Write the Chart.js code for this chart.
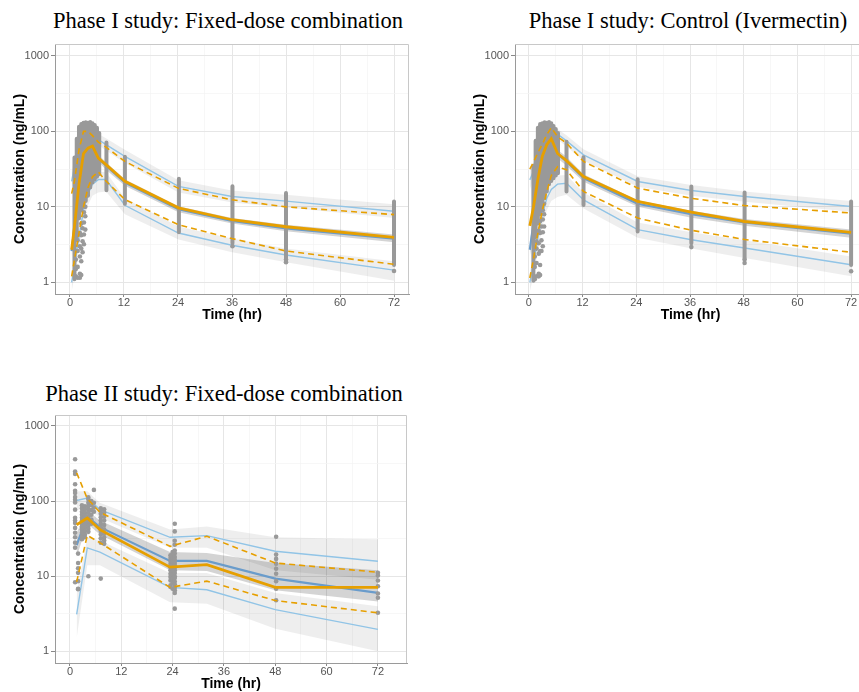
<!DOCTYPE html>
<html>
<head>
<meta charset="utf-8">
<script src="https://cdn.jsdelivr.net/npm/chart.js@4.4.1/dist/chart.umd.min.js"></script>
<style>
  body { margin: 0; background: #fff; width: 859px; height: 692px; overflow: hidden; position: relative; }
  canvas { position: absolute; }
  .ttl { position: absolute; width: 420px; text-align: center; white-space: nowrap;
         font-family: "Liberation Serif", "Times New Roman", serif; font-size: 22.5px; line-height: 1; color: #000; }
</style>
</head>
<body>
<div class="ttl" style="left:18px;top:9.5px">Phase I study: Fixed-dose combination</div>
<div class="ttl" style="left:478px;top:9.5px">Phase I study: Control (Ivermectin)</div>
<div class="ttl" style="left:14px;top:383px">Phase II study: Fixed-dose combination</div>
<canvas id="c1" width="430" height="330" style="left:0;top:0"></canvas>
<canvas id="c2" width="410" height="330" style="left:460px;top:0"></canvas>
<canvas id="c3" width="430" height="319" style="left:0;top:380px"></canvas>
<script>
// ---------- axis ticks ----------
const timeTicks = [0, 6, 12, 18, 24, 30, 36, 42, 48, 54, 60, 66, 72];
const concTicks = [1, 3.1623, 10, 31.623, 100, 316.23, 1000];

// ---------- Phase I, fixed-dose combination ----------
const p1Time   = [0.37, 1, 2, 3, 4, 5, 6.3, 8, 12.2, 24.1, 36, 48, 72];
const p1ObsMed = [2.7, 5.5, 20, 51, 60, 64, 44.4, 36.3, 21.8, 9.7, 6.75, 5.45, 3.95];
const p1ObsHi  = [15, 22, 57, 100, 100, 88, 72, 62, 40, 17.6, 12.4, 10.0, 7.9];
const p1ObsLo  = [1.2, 2, 4.5, 10, 18, 25, 29, 22, 12.5, 5.8, 3.8, 2.6, 1.73];
const p1SimMed = [2.6, 5.5, 19, 48, 56, 60, 44, 35, 21, 9.3, 6.5, 5.2, 3.8];
const p1SimHi  = [21.8, 35, 68, 88, 95, 95, 78, 67, 46.7, 18.7, 13.7, 11.9, 8.75];
const p1SimLo  = [1.0, 1.7, 4, 9, 15, 20, 23, 23, 10.5, 4.5, 3.1, 2.3, 1.45];
const p1HiBandLo  = [16, 28, 56, 74, 82, 82, 66, 56, 38, 15.5, 11.4, 9.8, 7.1];
const p1HiBandHi  = [29, 46, 84, 106, 112, 112, 93, 81, 57, 22.5, 16.5, 14.5, 10.8];
const p1MedBandLo = [2.2, 4.6, 16, 42, 50, 54, 40, 31, 19, 8.5, 6.0, 4.75, 3.4];
const p1MedBandHi = [3.1, 6.5, 22, 55, 63, 67, 49, 39, 23.2, 10.2, 7.1, 5.8, 4.3];
const p1LoBandLo  = [0.75, 1.2, 2.8, 6.2, 10.5, 14, 15.5, 16, 8, 3.7, 2.5, 1.85, 1.05];
const p1LoBandHi  = [1.3, 2.3, 5.6, 12.5, 20, 26, 29, 29, 13, 5.5, 3.8, 2.8, 1.9];
// observed concentrations: dense columns (min..max) and loose points
const p1ColTime = [1.0, 1.5, 2.0, 2.5, 3.0, 3.5, 4.0, 4.5, 5.0, 5.5, 6.0, 6.5, 8.1, 12.2, 24.2, 36.1, 48, 72];
const p1ColLo   = [1.1, 4, 7, 9, 10, 12, 14, 18, 21, 23, 25, 27, 16.6, 11, 4.6, 3.3, 2.1, 1.7];
const p1ColHi   = [45, 80, 115, 125, 130, 132, 130, 133, 128, 122, 112, 95, 71.5, 46, 23.5, 18.7, 15.3, 11.8];
const p1PtTime  = [1.3, 1.7, 2.2, 2.5, 2.8, 3.1, 3.4, 36.1, 48, 72];
const p1PtConc  = [[1.2, 1.5, 2.0], [1.15, 1.6, 2.6, 3.6], [1.15, 1.3, 2.2, 3.0, 4.5], [1.25, 1.9, 2.8, 4.2, 6.0],
                   [2.5, 3.5, 5.2], [3.2, 4.3, 6.2, 8.5], [5, 7.5, 10], [3.0], [1.85, 2.0], [1.41]];

// ---------- Phase I, control (ivermectin) ----------
const p2Time   = [0.2, 1, 2, 3, 4, 5, 6.4, 8.4, 12.2, 24.3, 36.3, 48.2, 72];
const p2ObsMed = [5.6, 9.8, 23, 47, 67, 80, 51, 41, 25.3, 11.8, 8.5, 6.4, 4.6];
const p2ObsHi  = [31.6, 39, 52, 68, 91, 112, 85, 70, 40, 17.7, 13, 10.4, 8.3];
const p2ObsLo  = [1.14, 2, 4.5, 9, 16, 26, 34, 31, 16, 7.1, 4.9, 3.7, 2.5];
const p2SimMed = [2.7, 6, 18, 42, 62, 72, 50, 40, 24, 11, 8.0, 6.2, 4.4];
const p2SimHi  = [22.8, 29.5, 41, 58, 80, 100, 92, 75, 49, 21.7, 16.5, 13.7, 10.1];
const p2SimLo  = [1.0, 1.7, 3.8, 8, 13, 17, 20, 20.6, 12.4, 5.0, 3.67, 2.85, 1.71];
const p2HiBandLo  = [17, 23, 34, 48, 67, 84, 78, 63, 41, 18.5, 14, 11.7, 8.6];
const p2HiBandHi  = [31, 39, 52, 72, 98, 118, 108, 89, 58, 25.5, 19.5, 16, 12];
const p2MedBandLo = [2.2, 4.8, 14.5, 35, 53, 62, 44, 35, 21.5, 10, 7.2, 5.6, 3.9];
const p2MedBandHi = [3.3, 7.5, 22, 50, 72, 84, 57, 46, 27, 12.2, 8.9, 6.9, 5.0];
const p2LoBandLo  = [0.75, 1.2, 2.6, 5.4, 9, 12, 13.5, 14.5, 9.5, 3.9, 2.8, 2.1, 1.2];
const p2LoBandHi  = [1.35, 2.4, 5.4, 11, 18, 23, 26, 26.5, 15.5, 6.2, 4.6, 3.6, 2.2];
const p2ColTime = [1.0, 1.5, 2.0, 2.5, 3.0, 3.5, 4.0, 4.5, 5.0, 5.5, 6.0, 6.5, 8.4, 12.2, 24.3, 36.3, 48.2, 72];
const p2ColLo   = [1.05, 4, 6, 8, 10, 13, 16, 20, 22, 24, 26, 28, 16, 10.6, 4.7, 3.3, 2.1, 1.7];
const p2ColHi   = [35, 75, 112, 125, 128, 132, 130, 133, 128, 118, 108, 95, 73, 45.6, 23.2, 18.6, 15.5, 11.8];
const p2PtTime  = [1.3, 1.7, 2.2, 2.5, 2.8, 3.1, 3.4, 36.3, 48.2, 72];
const p2PtConc  = [[1.1, 1.6, 2.2], [1.2, 1.8, 2.8, 3.5], [1.2, 1.3, 2.4, 3.3, 4.8], [1.25, 1.7, 2.6, 4.5, 6.5],
                   [2.6, 3.6, 5.5], [3.0, 4.6, 6.8, 9], [5.5, 8, 11], [2.93], [1.8, 2.0], [1.4]];

// ---------- Phase II, fixed-dose combination ----------
const p3Time   = [1.56, 4.05, 7.0, 23.4, 32, 48, 72];
const p3ObsMed = [48.5, 59.5, 41.7, 13.2, 14.3, 7.1, 7.1];
const p3ObsHi  = [238, 108, 71, 25, 34, 15, 11.3];
const p3ObsLo  = [8.4, 35, 28, 7.1, 8.6, 4.75, 3.26];
const p3SimMed = [26, 62, 45, 16, 16, 9.3, 6.0];
const p3SimHi  = [102, 110, 77, 33, 34.7, 21.5, 15.8];
const p3SimLo  = [3.1, 23.8, 21, 7.1, 6.6, 3.6, 1.96];
const p3HiBandLo  = [75, 85, 60, 24, 24, 12, 9];
const p3HiBandHi  = [135, 135, 95, 42, 46, 33, 31];
const p3MedBandLo = [18, 50, 36, 12, 11.7, 6.5, 4.6];
const p3MedBandHi = [38, 75, 55, 21, 20.4, 15, 12];
const p3LoBandLo  = [1.5, 14, 14, 4.5, 4.3, 2.0, 1.0];
const p3LoBandHi  = [6, 33, 30, 11, 11, 6, 4];
const p3ColTime = [], p3ColLo = [], p3ColHi = [];
const p3PtTime  = [1.2, 1.9, 2.8, 3.5, 4.3, 5.0, 5.6, 7.2, 8.0, 23.5, 24.0, 24.5, 48.2, 72];
const p3PtConc  = [
  [361, 248, 229, 168, 137, 128, 113, 104, 96, 77, 60, 55, 51, 44, 38, 33, 28, 24, 8.3],
  [20, 15, 12.8, 11.1, 8.6, 6.8, 6.7],
  [88, 80, 72, 66, 60, 55, 50, 46, 42, 38, 34, 31],
  [85, 78, 70, 64, 58, 52, 48, 44, 40, 36, 33],
  [112, 105, 95, 86, 78, 70, 63, 57, 52, 47, 43, 39, 10],
  [100, 88, 76, 66, 57, 50],
  [141, 95, 82, 72],
  [80, 75, 68, 61, 55, 50, 45, 40, 36, 32, 28, 9.3],
  [78, 70, 62, 55, 48, 42, 37, 33, 30, 27],
  [19, 17.5, 16, 14.5, 13.2, 12, 10.8, 9.8, 8.8, 7.6, 7.2],
  [21, 18.5, 17, 15.5, 14, 12.5, 11.5, 10.5, 9.2, 8.2, 6.8],
  [50, 39.5, 29.7, 26.3, 22, 20, 18, 16.5, 15, 14, 13, 12, 11, 10, 9.5, 8.5, 7.8, 7.0, 6.5, 6.0, 3.7],
  [33.6, 19.4, 17, 14.7, 12.6, 10.8, 8.6, 6.8, 4.8],
  [11.1, 10.2, 8.76, 7.35, 5.9, 5.16, 3.26]
];

// ---------- helpers ----------
const ORANGE = '#E69F00';
const BLUE_LT = '#91c4e6';
const BLUE_MED = '#6a9ccb';
const PT = '#999999';
const FONT = '"Liberation Sans", Arial, sans-serif';

function xy(t, v) { return t.map((x, i) => ({ x: x, y: v[i] })); }

function colData(t, lo, hi) {
  const d = [];
  t.forEach((x, i) => { d.push({ x: x, y: lo[i] }, { x: x, y: hi[i] }, { x: x, y: null }); });
  return d;
}

function ptData(t, conc) {
  const d = [];
  t.forEach((x, i) => conc[i].forEach(c => d.push({ x: x, y: c })));
  return d;
}

const isMajorY = v => Math.abs(Math.log10(v) - Math.round(Math.log10(v))) < 0.01;

const frame = {
  id: 'frame',
  afterDatasetsDraw(chart) {
    const a = chart.chartArea, ctx = chart.ctx;
    ctx.save();
    ctx.strokeStyle = '#c8c8c8';
    ctx.lineWidth = 1;
    ctx.beginPath();
    ctx.moveTo(a.left, a.top + 0.5);
    ctx.lineTo(a.right - 0.5, a.top + 0.5);
    ctx.lineTo(a.right - 0.5, a.bottom);
    ctx.stroke();
    ctx.restore();
  }
};

function panel(id, p) {
  const ds = [];
  const line = (v, color, width, dash, order) => ds.push({
    data: xy(p.time, v), borderColor: color, borderWidth: width, borderDash: dash,
    pointRadius: 0, fill: false, order: order
  });
  const band = (lo, hi, color) => {
    ds.push({ data: xy(p.time, hi), fill: '+1', backgroundColor: color, borderWidth: 0, pointRadius: 0, order: 5 });
    ds.push({ data: xy(p.time, lo), fill: false, borderWidth: 0, pointRadius: 0, order: 5 });
  };
  line(p.obsMed, ORANGE, 2.8, [], 0);
  line(p.obsHi, ORANGE, 1.6, [6, 4], 1);
  line(p.obsLo, ORANGE, 1.6, [6, 4], 1);
  ds.push({ data: colData(p.colTime, p.colLo, p.colHi), borderColor: PT, borderWidth: 4,
            borderCapStyle: 'round', spanGaps: false, pointRadius: 0, fill: false, order: 2 });
  ds.push({ data: ptData(p.ptTime, p.ptConc), showLine: false, pointRadius: 2.3,
            pointBackgroundColor: PT, pointBorderWidth: 0, order: 2 });
  line(p.simMed, BLUE_MED, 2.2, [], 3);
  line(p.simHi, BLUE_LT, 1.4, [], 3);
  line(p.simLo, BLUE_LT, 1.4, [], 3);
  band(p.hiBandLo, p.hiBandHi, 'rgba(0,0,0,0.065)');
  band(p.loBandLo, p.loBandHi, 'rgba(0,0,0,0.065)');
  band(p.medBandLo, p.medBandHi, 'rgba(0,0,0,0.17)');

  new Chart(document.getElementById(id), {
    type: 'line',
    data: { datasets: ds },
    plugins: [frame],
    options: {
      responsive: false,
      animation: false,
      devicePixelRatio: 1,
      elements: { line: { tension: 0 } },
      layout: { padding: p.pad },
      plugins: { legend: { display: false }, tooltip: { enabled: false } },
      scales: {
        x: {
          type: 'linear', min: p.xMin, max: p.xMax,
          afterBuildTicks: s => { s.ticks = timeTicks.map(v => ({ value: v })); },
          afterFit: s => { s.height = 36; },
          ticks: {
            autoSkip: false, maxRotation: 0, padding: 0, color: '#555',
            font: { family: FONT, size: 11, lineHeight: 1 },
            callback: v => (v % 12 === 0 ? String(v) : '')
          },
          grid: {
            color: c => (c.tick.value % 12 === 0 ? '#e6e6e6' : '#f3f3f3'),
            lineWidth: c => (c.tick.value % 12 === 0 ? 1 : 0.7),
            tickColor: c => (c.tick.value % 12 === 0 ? '#888' : 'rgba(0,0,0,0)'),
            tickLength: 3
          },
          border: { color: '#9a9a9a', width: 1 },
          title: { display: true, text: 'Time (hr)', color: '#000',
                   font: { family: FONT, size: 14, weight: 'bold' }, padding: { top: 0, bottom: 6 } }
        },
        y: {
          type: 'logarithmic', min: p.yMin, max: p.yMax,
          afterBuildTicks: s => { s.ticks = concTicks.map(v => ({ value: v })); },
          afterFit: s => { s.width = 55; },
          ticks: {
            autoSkip: false, padding: 2, color: '#555',
            font: { family: FONT, size: 11, lineHeight: 1 },
            callback: v => (isMajorY(v) ? String(Math.round(v)) : '')
          },
          grid: {
            color: c => (isMajorY(c.tick.value) ? '#e6e6e6' : '#f3f3f3'),
            lineWidth: c => (isMajorY(c.tick.value) ? 1 : 0.7),
            tickColor: c => (isMajorY(c.tick.value) ? '#888' : 'rgba(0,0,0,0)'),
            tickLength: 4
          },
          border: { color: '#9a9a9a', width: 1 },
          title: { display: true, text: 'Concentration (ng/mL)', color: '#000',
                   font: { family: FONT, size: 14, weight: 'bold' }, padding: { top: 12, bottom: 0 } }
        }
      }
    }
  });
}

panel('c1', {
  time: p1Time, obsMed: p1ObsMed, obsHi: p1ObsHi, obsLo: p1ObsLo,
  simMed: p1SimMed, simHi: p1SimHi, simLo: p1SimLo,
  hiBandLo: p1HiBandLo, hiBandHi: p1HiBandHi, medBandLo: p1MedBandLo, medBandHi: p1MedBandHi,
  loBandLo: p1LoBandLo, loBandHi: p1LoBandHi,
  colTime: p1ColTime, colLo: p1ColLo, colHi: p1ColHi, ptTime: p1PtTime, ptConc: p1PtConc,
  xMin: -3.33, xMax: 75.33, yMin: 0.716, yMax: 1441,
  pad: { top: 44, right: 21, bottom: 0, left: 0 }
});

panel('c2', {
  time: p2Time, obsMed: p2ObsMed, obsHi: p2ObsHi, obsLo: p2ObsLo,
  simMed: p2SimMed, simHi: p2SimHi, simLo: p2SimLo,
  hiBandLo: p2HiBandLo, hiBandHi: p2HiBandHi, medBandLo: p2MedBandLo, medBandHi: p2MedBandHi,
  loBandLo: p2LoBandLo, loBandHi: p2LoBandHi,
  colTime: p2ColTime, colLo: p2ColLo, colHi: p2ColHi, ptTime: p2PtTime, ptConc: p2PtConc,
  xMin: -3.11, xMax: 75.33, yMin: 0.716, yMax: 1441,
  pad: { top: 44, right: 2, bottom: 0, left: 0 }
});

panel('c3', {
  time: p3Time, obsMed: p3ObsMed, obsHi: p3ObsHi, obsLo: p3ObsLo,
  simMed: p3SimMed, simHi: p3SimHi, simLo: p3SimLo,
  hiBandLo: p3HiBandLo, hiBandHi: p3HiBandHi, medBandLo: p3MedBandLo, medBandHi: p3MedBandHi,
  loBandLo: p3LoBandLo, loBandHi: p3LoBandHi,
  colTime: p3ColTime, colLo: p3ColLo, colHi: p3ColHi, ptTime: p3PtTime, ptConc: p3PtConc,
  xMin: -3.5, xMax: 78.8, yMin: 0.714, yMax: 1400,
  pad: { top: 35, right: 23, bottom: 0, left: 0 }
});
</script>
</body>
</html>
